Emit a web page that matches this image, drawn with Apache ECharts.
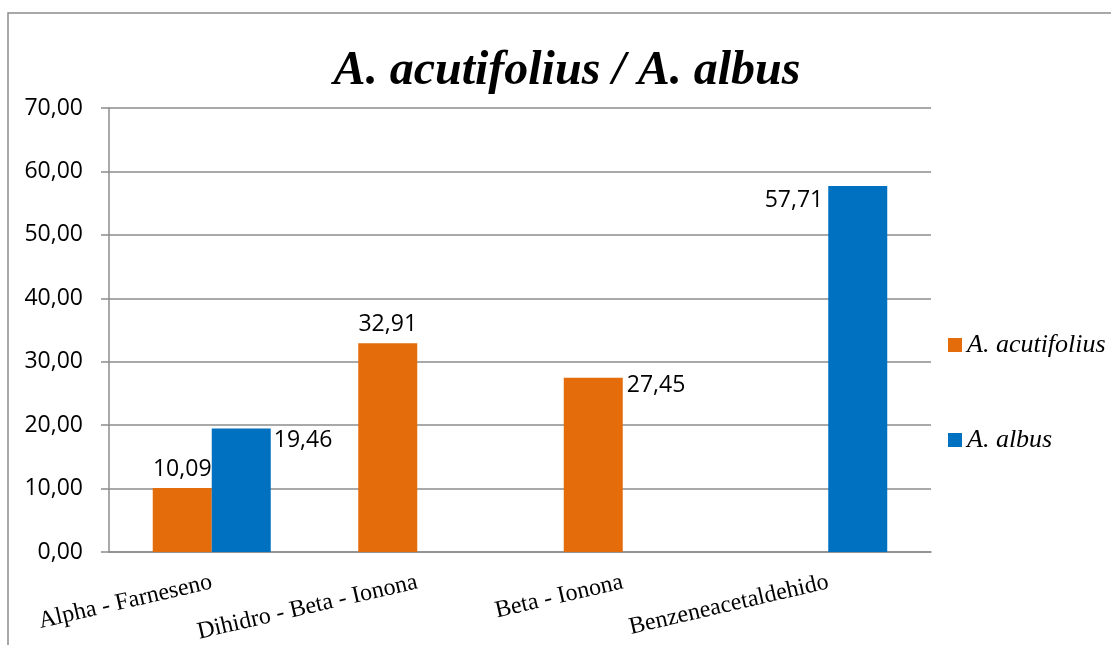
<!DOCTYPE html>
<html>
<head>
<meta charset="utf-8">
<script src="https://cdn.jsdelivr.net/npm/echarts@6/dist/echarts.min.js"></script>
<style>
html,body{margin:0;padding:0;background:#fff;}
#chart{width:1111px;height:645px;}
</style>
</head>
<body>
<div id="chart"></div>
<script>
const categories = ['Alpha - Farneseno', 'Dihidro - Beta - Ionona', 'Beta - Ionona', 'Benzeneacetaldehido'];
const seriesNames = ['A. acutifolius', 'A. albus'];
const acutifolius = [10.09, 32.91, 27.45, null];
const albus = [19.46, null, null, 57.71];
const yTicks = [0, 10, 20, 30, 40, 50, 60, 70];

const fmt = v => Number(v).toFixed(2).replace('.', ',');
const SANS = '"Open Sans", "Noto Sans", sans-serif';
const SERIF = '"Liberation Serif", "Times New Roman", serif';

// per-bar label placement (styling, not data)
const acutLabels = [
  { position: 'top', distance: 7 },
  { position: 'top', distance: 7 },
  { position: ['100%', 0], align: 'left', verticalAlign: 'top', offset: [4, -4] },
  null
];
const albusLabels = [
  { position: ['100%', 0], align: 'left', verticalAlign: 'top', offset: [3, 0] },
  null,
  null,
  { position: [0, 0], align: 'right', verticalAlign: 'top', offset: [-5, 3] }
];

function buildData(values, labels) {
  return values.map((v, i) => {
    if (v == null) return null;
    const item = { value: v };
    if (labels[i]) item.label = Object.assign({ show: true }, labels[i]);
    return item;
  });
}

const chart = echarts.init(document.getElementById('chart'), null, { renderer: 'canvas' });
const labelStyle = {
  show: true,
  formatter: p => fmt(p.value),
  fontFamily: SANS,
  fontSize: 23,
  color: '#000'
};

chart.setOption({
  animation: false,
  backgroundColor: '#fff',
  graphic: [{
    type: 'rect',
    shape: { x: 8, y: 13, width: 1300, height: 800 },
    style: { fill: 'none', stroke: '#8c8c8c', lineWidth: 1.5 },
    silent: true,
    z: -10
  }],
  title: {
    text: 'A. acutifolius / A. albus',
    left: 562,
    top: 43,
    textAlign: 'center',
    textStyle: {
      fontFamily: SERIF,
      fontStyle: 'italic',
      fontWeight: 'bold',
      fontSize: 48,
      color: '#000'
    }
  },
  legend: {
    orient: 'vertical',
    left: 948,
    top: 332,
    padding: 0,
    itemWidth: 14,
    itemHeight: 14,
    itemGap: 69,
    icon: 'rect',
    data: seriesNames,
    textStyle: {
      fontFamily: SERIF,
      fontStyle: 'italic',
      fontSize: 26,
      color: '#000',
      padding: [0, 0, 0, 0]
    }
  },
  grid: { left: 109, right: 180, top: 108, bottom: 93, containLabel: false },
  xAxis: {
    type: 'category',
    data: categories,
    axisTick: { show: false },
    axisLine: { show: true, lineStyle: { color: '#8c8c8c', width: 1.5 } },
    axisLabel: {
      interval: 0,
      rotate: 13,
      margin: 30,
      fontFamily: SERIF,
      fontSize: 24,
      color: '#000'
    }
  },
  yAxis: {
    type: 'value',
    min: yTicks[0],
    max: yTicks[yTicks.length - 1],
    interval: yTicks[1] - yTicks[0],
    axisLine: { show: true, lineStyle: { color: '#8c8c8c', width: 1.5 } },
    axisTick: { show: true, length: 8, lineStyle: { color: '#8c8c8c', width: 1.5 } },
    splitLine: { show: true, lineStyle: { color: '#8c8c8c', width: 1.5 } },
    axisLabel: {
      margin: 26,
      formatter: v => fmt(v),
      fontFamily: SANS,
      fontSize: 23,
      color: '#000'
    }
  },
  series: [
    {
      name: seriesNames[0],
      type: 'bar',
      barWidth: 59,
      barGap: '0%',
      itemStyle: { color: '#E46C0A' },
      label: labelStyle,
      data: buildData(acutifolius, acutLabels)
    },
    {
      name: seriesNames[1],
      type: 'bar',
      barWidth: 59,
      barGap: '0%',
      itemStyle: { color: '#0070C0' },
      label: labelStyle,
      data: buildData(albus, albusLabels)
    }
  ]
});
</script>
</body>
</html>
